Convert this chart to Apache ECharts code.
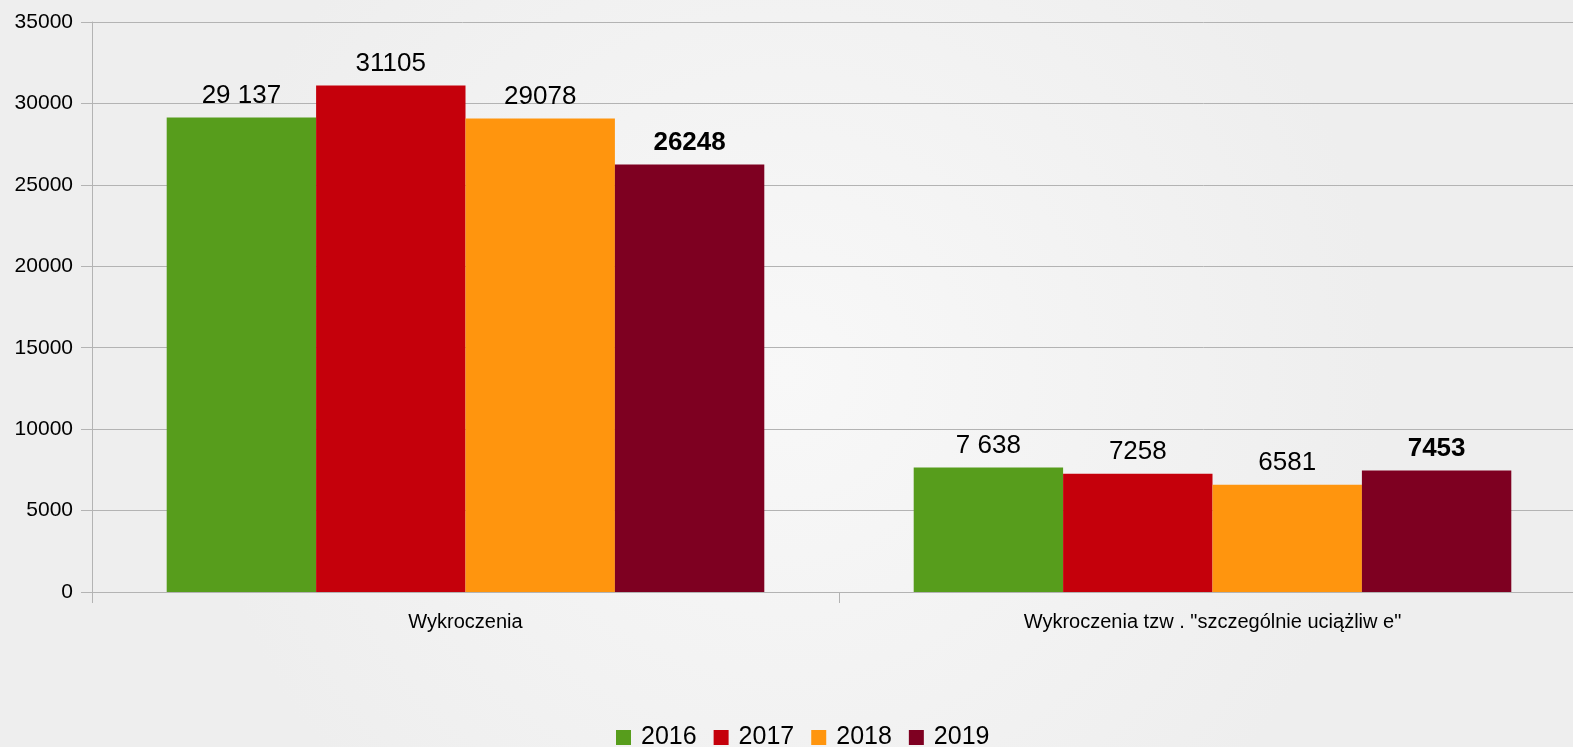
<!DOCTYPE html>
<html>
<head>
<meta charset="utf-8">
<script src="https://cdn.jsdelivr.net/npm/echarts@6/dist/echarts.min.js"></script>
<style>
  html, body { margin: 0; padding: 0; }
  #chart { width: 1573px; height: 747px; }
</style>
</head>
<body>
<div id="chart"></div>
<script>
const categories = ['Wykroczenia', 'Wykroczenia tzw . "szczególnie uciążliw e"'];
const years = ['2016', '2017', '2018', '2019'];
const v2016 = [29137, 7638];
const v2017 = [31105, 7258];
const v2018 = [29078, 6581];
const v2019 = [26248, 7453];
const colors = ['#579d1c', '#c5000b', '#ff950e', '#7e0021'];

const myChart = echarts.init(document.getElementById('chart'));

// 2016 labels are written with a space as thousands separator
function spaced(p) {
  return String(p.value).replace(/\B(?=(\d{3})+(?!\d))/g, ' ');
}

const allValues = [v2016, v2017, v2018, v2019];
const mySeries = years.map(function (y, i) {
  return {
    name: y,
    type: 'bar',
    data: allValues[i],
    barGap: '0%',
    barCategoryGap: '20%',
    itemStyle: { color: colors[i] },
    label: {
      show: true,
      position: 'top',
      distance: 9,
      color: '#000',
      fontFamily: 'Liberation Sans',
      fontSize: 26,
      fontWeight: i === 3 ? 'bold' : 'normal',
      formatter: i === 0 ? spaced : '{c}'
    }
  };
});

myChart.setOption({
  backgroundColor: {
    type: 'radial', x: 0.5, y: 0.5, r: 0.8,
    colorStops: [
      { offset: 0, color: '#f8f8f8' },
      { offset: 1, color: '#eeeeee' }
    ]
  },
  textStyle: { fontFamily: 'Liberation Sans' },
  color: colors,
  grid: { left: 92, right: -13, top: 22, bottom: 155, containLabel: false, outerBoundsMode: 'none' },
  legend: {
    bottom: -8,
    left: 611,
    itemWidth: 15,
    itemHeight: 15,
    itemGap: 17,
    icon: 'rect',
    textStyle: { fontSize: 25, color: '#000', fontFamily: 'Liberation Sans', padding: [0, 0, 0, 5] },
    data: years
  },
  xAxis: [{
    type: 'category',
    data: categories,
    axisLine: { lineStyle: { color: '#b3b3b3' } },
    axisTick: { show: true, length: 11, lineStyle: { color: '#b3b3b3' } },
    axisLabel: { color: '#000', fontSize: 20, margin: 20, fontFamily: 'Liberation Sans' }
  }],
  yAxis: [{
    type: 'value',
    min: 0,
    max: 35000,
    interval: 5000,
    axisLine: { show: true, lineStyle: { color: '#b3b3b3' } },
    axisTick: { show: true, length: 11, lineStyle: { color: '#b3b3b3' } },
    splitLine: { lineStyle: { color: '#b3b3b3' } },
    axisLabel: {
      color: '#000', fontSize: 21, margin: 19, fontFamily: 'Liberation Sans',
      formatter: function (v) { return String(v); }
    }
  }],
  series: mySeries
});
</script>
</body>
</html>
